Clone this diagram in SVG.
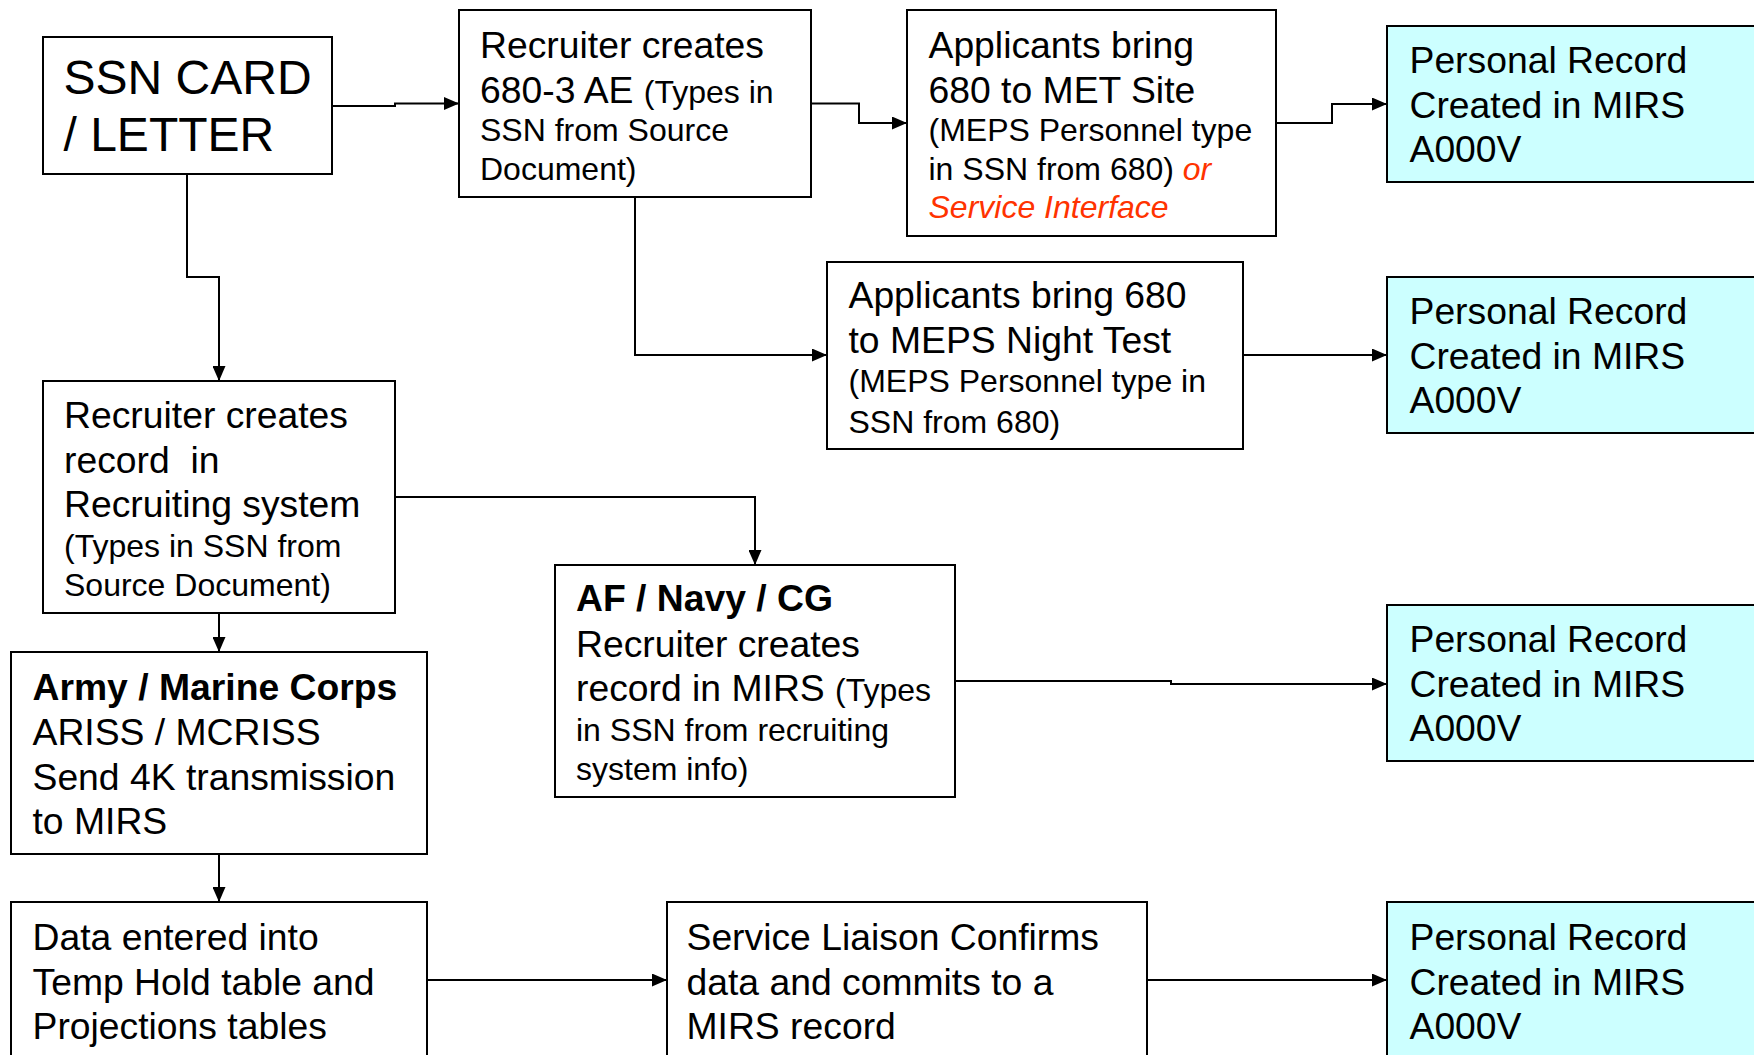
<svg xmlns="http://www.w3.org/2000/svg" width="1754" height="1055" viewBox="0 0 1754 1055">
<style>
  .box { fill: #ffffff; stroke: #000000; stroke-width: 2; }
  .pr { fill: #ccffff; stroke: #000000; stroke-width: 2; }
  .t { font-family: "Liberation Sans", Arial, sans-serif; font-size: 37.3px; fill: #000000; }
  .s { font-size: 32px; }
  .big { font-size: 48px; }
  .b { font-weight: bold; }
  .red { fill: #ff3300; font-style: italic; }
  .conn path { fill: none; stroke: #000000; stroke-width: 2; marker-end: url(#arr); }
</style>
<defs>
  <marker id="arr" markerUnits="userSpaceOnUse" markerWidth="15" markerHeight="13" refX="15" refY="6.5" orient="auto">
    <path d="M0,0 L15,6.5 L0,13 z" fill="#000000"/>
  </marker>
</defs>
<rect width="1754" height="1055" fill="#ffffff"/>

<g class="conn" id="connectors">
  <path d="M332,106 H395 V103.5 H459"/>
  <path d="M811,103.5 H859 V123 H907"/>
  <path d="M1276,123 H1332 V104 H1387"/>
  <path d="M635,197 V355 H827"/>
  <path d="M1243,355 H1387"/>
  <path d="M187,174 V277 H219 V381"/>
  <path d="M395,497 H755 V565"/>
  <path d="M219,613 V652"/>
  <path d="M955,681 H1171 V684 H1387"/>
  <path d="M219,854 V902"/>
  <path d="M427,980 H667"/>
  <path d="M1147,980 H1387"/>
</g>

<g id="ssn">
  <rect class="box" x="43" y="37" width="289" height="137"/>
  <text class="t big" x="63.5" y="93.5">SSN CARD</text>
  <text class="t big" x="63.5" y="150.5">/ LETTER</text>
</g>

<g id="recruiter680">
  <rect class="box" x="459" y="10" width="352" height="187"/>
  <text class="t" x="480" y="58">Recruiter creates</text>
  <text class="t" x="480" y="102.5">680-3 AE <tspan class="s">(Types in</tspan></text>
  <text class="t s" x="480" y="141">SSN from Source</text>
  <text class="t s" x="480" y="180">Document)</text>
</g>

<g id="met">
  <rect class="box" x="907" y="10" width="369" height="226"/>
  <text class="t" x="928.5" y="58">Applicants bring</text>
  <text class="t" x="928.5" y="103">680 to MET Site</text>
  <text class="t s" x="928.5" y="141">(MEPS Personnel type</text>
  <text class="t s" x="928.5" y="180">in SSN from 680) <tspan class="red">or</tspan></text>
  <text class="t s red" x="928.5" y="218">Service Interface</text>
</g>

<g id="pr1">
  <rect class="pr" x="1387" y="26" width="380" height="156"/>
  <text class="t" x="1409.5" y="73">Personal Record</text>
  <text class="t" x="1409.5" y="117.5">Created in MIRS</text>
  <text class="t" x="1409.5" y="161.5">A000V</text>
</g>

<g id="night">
  <rect class="box" x="827" y="262" width="416" height="187"/>
  <text class="t" x="848.5" y="308">Applicants bring 680</text>
  <text class="t" x="848.5" y="352.5">to MEPS Night Test</text>
  <text class="t s" x="848.5" y="392">(MEPS Personnel type in</text>
  <text class="t s" x="848.5" y="432.5">SSN from 680)</text>
</g>

<g id="pr2">
  <rect class="pr" x="1387" y="277" width="380" height="156"/>
  <text class="t" x="1409.5" y="324">Personal Record</text>
  <text class="t" x="1409.5" y="368.5">Created in MIRS</text>
  <text class="t" x="1409.5" y="413">A000V</text>
</g>

<g id="recruiting">
  <rect class="box" x="43" y="381" width="352" height="232"/>
  <text class="t" x="64" y="428" xml:space="preserve">Recruiter creates</text>
  <text class="t" x="64" y="472.5" xml:space="preserve">record  in</text>
  <text class="t" x="64" y="517">Recruiting system</text>
  <text class="t s" x="64" y="557">(Types in SSN from</text>
  <text class="t s" x="64" y="596">Source Document)</text>
</g>

<g id="af">
  <rect class="box" x="555" y="565" width="400" height="232"/>
  <text class="t b" x="576" y="611">AF / Navy / CG</text>
  <text class="t" x="576" y="657">Recruiter creates</text>
  <text class="t" x="576" y="701">record in MIRS <tspan class="s">(Types</tspan></text>
  <text class="t s" x="576" y="741">in SSN from recruiting</text>
  <text class="t s" x="576" y="779.5">system info)</text>
</g>

<g id="pr3">
  <rect class="pr" x="1387" y="605" width="380" height="156"/>
  <text class="t" x="1409.5" y="652">Personal Record</text>
  <text class="t" x="1409.5" y="697">Created in MIRS</text>
  <text class="t" x="1409.5" y="741">A000V</text>
</g>

<g id="army">
  <rect class="box" x="11" y="652" width="416" height="202"/>
  <text class="t b" x="32.5" y="699.5">Army / Marine Corps</text>
  <text class="t" x="32.5" y="745">ARISS / MCRISS</text>
  <text class="t" x="32.5" y="789.5">Send 4K transmission</text>
  <text class="t" x="32.5" y="834">to MIRS</text>
</g>

<g id="data">
  <rect class="box" x="11" y="902" width="416" height="170"/>
  <text class="t" x="32.5" y="949.5">Data entered into</text>
  <text class="t" x="32.5" y="994.5">Temp Hold table and</text>
  <text class="t" x="32.5" y="1039">Projections tables</text>
</g>

<g id="liaison">
  <rect class="box" x="667" y="902" width="480" height="170"/>
  <text class="t" x="686.5" y="949.5">Service Liaison Confirms</text>
  <text class="t" x="686.5" y="994.5">data and commits to a</text>
  <text class="t" x="686.5" y="1039">MIRS record</text>
</g>

<g id="pr4">
  <rect class="pr" x="1387" y="902" width="380" height="170"/>
  <text class="t" x="1409.5" y="949.5">Personal Record</text>
  <text class="t" x="1409.5" y="994.5">Created in MIRS</text>
  <text class="t" x="1409.5" y="1039">A000V</text>
</g>
</svg>
